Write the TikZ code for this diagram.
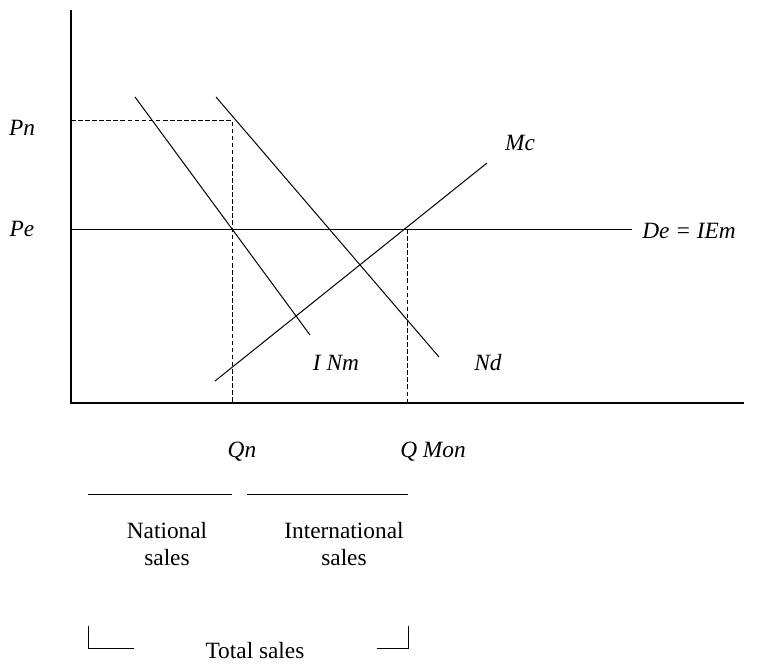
\documentclass[tikz,border=0pt]{standalone}
\usepackage{fontspec}
\setmainfont{Liberation Serif}
\begin{document}
\begin{tikzpicture}[x=0.75pt,y=-0.75pt,
  axis/.style={line width=1.5pt},
  curve/.style={line width=0.75pt},
  guide/.style={line width=0.7pt,dash pattern=on 3.5pt off 1.8pt},
  lbl/.style={font=\fontsize{17.5}{20}\selectfont\itshape,inner sep=0pt},
  txt/.style={font=\fontsize{17.5}{20}\selectfont,inner sep=0pt,align=center}]
\useasboundingbox (0,0) rectangle (767,664);
% axes
\coordinate (O) at (71,403);
\coordinate (ytop) at (71,10);
\coordinate (xend) at (744,403);
\draw[axis] (ytop) -- (O) -- (xend);
% price levels
\coordinate (pn0) at (71,120);
\coordinate (pnq) at (232,120);
\coordinate (qn) at (232,403);
\draw[guide] (pn0) -- (pnq) -- (qn);
\coordinate (pe0) at (71,229);
\coordinate (pe1) at (632,229);
\draw[curve] (pe0) -- (pe1);
\coordinate (qm0) at (407,229);
\coordinate (qm) at (407,403);
\draw[guide] (qm0) -- (qm);
% curves
\coordinate (inm0) at (135,97);
\coordinate (inm1) at (310,335);
\draw[curve] (inm0) -- (inm1);
\coordinate (nd0) at (216,97);
\coordinate (nd1) at (439,357);
\draw[curve] (nd0) -- (nd1);
\coordinate (mc0) at (215,381);
\coordinate (mc1) at (487,163);
\draw[curve] (mc0) -- (mc1);
% labels
\node[lbl] (Pn) at (22,128) {Pn};
\node[lbl] (Pe) at (22,229) {Pe};
\node[lbl] (De) at (689,231) {De = IEm};
\node[lbl] (Mc) at (520,143) {Mc};
\node[lbl] (INm) at (336,363) {I Nm};
\node[lbl] (Nd) at (488,363) {Nd};
\node[lbl] (Qn) at (242,452) {Qn};
\node[lbl] (QMon) at (433,452) {Q Mon};
% sales bars
\coordinate (b1a) at (88,494);
\coordinate (b1b) at (232,494);
\coordinate (b2a) at (247,494);
\coordinate (b2b) at (408,494);
\draw[curve] (b1a) -- (b1b);
\draw[curve] (b2a) -- (b2b);
\node[txt] (nat) at (167,544) {National\\sales};
\node[txt] (int) at (344,544) {International\\sales};
% total bracket
\coordinate (l0) at (88,626);
\coordinate (l1) at (88,648);
\coordinate (l2) at (134,648);
\draw[curve] (l0) -- (l1) -- (l2);
\coordinate (r0) at (377,648);
\coordinate (r1) at (408,648);
\coordinate (r2) at (408,626);
\draw[curve] (r0) -- (r1) -- (r2);
\node[txt] (tot) at (255,651) {Total sales};
\end{tikzpicture}
\end{document}
